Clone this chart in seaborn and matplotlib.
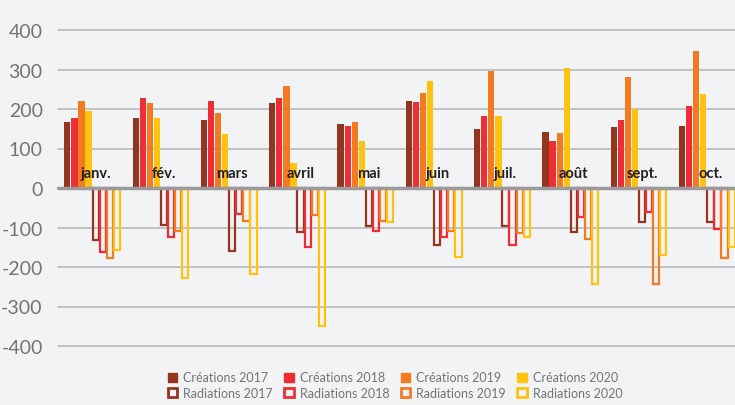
import seaborn as sns
import matplotlib.pyplot as plt
import pandas as pd
from matplotlib.patches import Patch

months = ['janv.', 'fév.', 'mars', 'avril', 'mai', 'juin', 'juil.', 'août', 'sept.', 'oct.']
creations_2017 = [168, 178, 171, 216, 161, 221, 150, 141, 155, 157]
creations_2018 = [177, 227, 221, 227, 158, 218, 183, 119, 171, 208]
creations_2019 = [221, 216, 189, 258, 168, 241, 297, 138, 280, 346]
creations_2020 = [196, 178, 136, 64, 119, 272, 183, 305, 199, 238]
radiations_2017 = [-131, -93, -159, -112, -95, -145, -95, -112, -86, -86]
radiations_2018 = [-161, -125, -66, -150, -108, -125, -145, -73, -61, -103]
radiations_2019 = [-176, -108, -83, -69, -83, -108, -114, -129, -242, -178]
radiations_2020 = [-156, -228, -217, -350, -86, -175, -125, -242, -170, -150]

series = {
    'Créations 2017': creations_2017,
    'Créations 2018': creations_2018,
    'Créations 2019': creations_2019,
    'Créations 2020': creations_2020,
    'Radiations 2017': radiations_2017,
    'Radiations 2018': radiations_2018,
    'Radiations 2019': radiations_2019,
    'Radiations 2020': radiations_2020,
}
colors = ['#93351f', '#ee2d35', '#f47a20', '#ffc20e']

rows = []
for name, vals in series.items():
    for m, v in zip(months, vals):
        rows.append({'mois': m, 'serie': name, 'valeur': v})
df = pd.DataFrame(rows)

sns.set_style('white')
plt.rcParams['font.family'] = ['Lato', 'DejaVu Sans']
plt.rcParams['axes.unicode_minus'] = False

bg = '#f2f3f5'
fig = plt.figure(figsize=(7.35, 4.06), dpi=100, facecolor=bg)
ax = fig.add_axes([58 / 735, (406 - 347) / 406, 683 / 735, 316 / 406])
ax.set_facecolor(bg)

sns.barplot(data=df, x='mois', y='valeur', hue='serie', order=months,
            hue_order=list(series.keys()), palette=colors * 2, saturation=1,
            width=0.83, gap=0.12, ax=ax, legend=False, zorder=3)

for i, cont in enumerate(ax.containers):
    c = colors[i % 4]
    for p in cont:
        if i >= 4:
            p.set_facecolor('none')
            p.set_edgecolor(c)
            p.set_linewidth(1.6)
        else:
            p.set_edgecolor('none')

ax.set_ylim(-400, 400)
ax.set_xlim(-0.5, 9.5)
ax.set_yticks(range(-400, 401, 100))
ax.set_yticklabels([str(v) for v in range(-400, 401, 100)])
ax.tick_params(axis='y', length=0, pad=11, labelsize=14, labelcolor='#737476')
ax.set_xticks([])
ax.set_xlabel('')
ax.set_ylabel('')
for s in ax.spines.values():
    s.set_visible(False)

for v in range(-400, 401, 100):
    if v == 0:
        ax.axhline(0, color='#9a9a9c', lw=2.5, zorder=4, clip_on=False)
    else:
        ax.axhline(v, color='#b4b5b7', lw=1.1, zorder=1, clip_on=False)

for i, m in enumerate(months):
    ax.text(i + 0.05, 37, m, ha='center', va='center', fontsize=10.5,
            fontweight='bold', color='#231f20', zorder=6)

# ordre ligne par ligne : créations en haut, radiations en bas
names = list(series)
handles = []
for k in range(4):
    for name in (names[k], names[k + 4]):
        c = colors[k]
        if name.startswith('Cr'):
            handles.append(Patch(facecolor=c, edgecolor=c, label=name))
        else:
            handles.append(Patch(facecolor='none', edgecolor=c, linewidth=2, label=name))
fig.legend(handles=handles, loc='center', bbox_to_anchor=(395 / 735, 1 - 386 / 406),
           ncol=4, frameon=False, fontsize=9, labelcolor='#737476',
           handlelength=0.75, handleheight=0.75, handletextpad=0.5,
           columnspacing=0.9, labelspacing=0.25)

fig.savefig('out.png', dpi=100, facecolor=bg)
